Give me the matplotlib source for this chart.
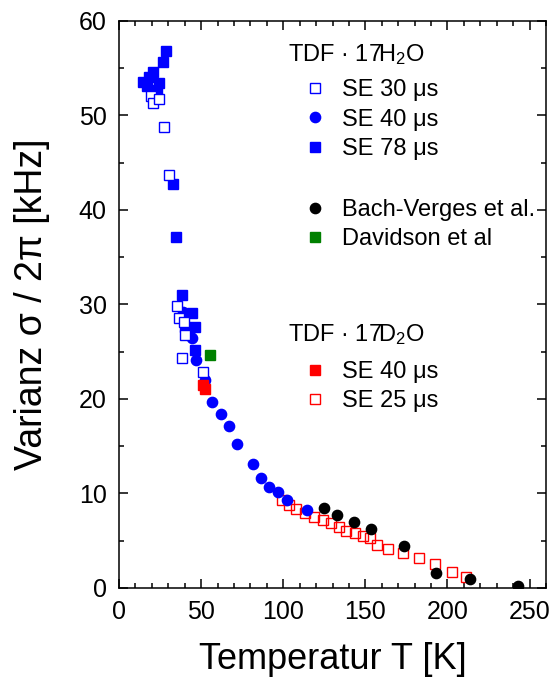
import matplotlib
matplotlib.use("Agg")
import matplotlib.pyplot as plt
from matplotlib.ticker import MultipleLocator

plt.rcParams['font.family'] = ['Liberation Sans', 'DejaVu Sans']
plt.rcParams['mathtext.fontset'] = 'custom'
plt.rcParams['mathtext.rm'] = 'Liberation Sans'
plt.rcParams['mathtext.it'] = 'Liberation Sans:italic'

# === data ===
# TDF*17H2O, SE 30 us (open blue squares)
t_se30 = [19.5, 20.7, 24.3, 27.4, 30.4, 35.3, 36.5, 39.5, 40.1, 38.3, 51.1]
v_se30 = [52.1, 51.3, 51.7, 48.8, 43.7, 29.8, 28.6, 28.1, 26.8, 24.3, 22.9]

# TDF*17H2O, SE 40 us (blue circles)
t_se40 = [38.9, 42.6, 44.4, 46.8, 52.3, 56.6, 62.0, 66.9, 71.8, 81.5,
          86.4, 91.2, 96.7, 102.2, 114.4]
v_se40 = [29.2, 26.9, 26.5, 24.1, 22.0, 19.7, 18.4, 17.1, 15.2, 13.1,
          11.6, 10.7, 10.2, 9.3, 8.3]

# TDF*17H2O, SE 78 us (filled blue squares)
t_se78 = [28.6, 26.8, 20.7, 18.2, 14.6, 17.0, 24.3, 23.1, 32.8, 34.7,
          38.3, 44.4, 40.1, 46.2, 46.2]
v_se78 = [56.8, 55.7, 54.6, 54.1, 53.5, 53.1, 53.4, 52.7, 42.8, 37.1,
          31.0, 29.1, 27.6, 27.6, 25.2]

# Bach-Verges et al. (black circles)
t_bach = [124.7, 132.6, 143.0, 153.3, 173.4, 192.8, 213.5, 242.7]
v_bach = [8.5, 7.7, 7.0, 6.2, 4.4, 1.6, 1.0, 0.2]

# Davidson et al (green square)
t_dav = [55.4]
v_dav = [24.7]

# TDF*17D2O, SE 40 us (filled red squares)
t_d40 = [51.2, 52.2]
v_d40 = [21.5, 21.1]

# TDF*17D2O, SE 25 us (open red squares)
t_d25 = [99.0, 103.5, 108.0, 113.5, 119.0, 124.0, 129.0, 134.0, 138.5,
         143.5, 148.5, 152.7, 157.0, 163.6, 172.7, 182.5, 192.2, 203.0, 211.0]
v_d25 = [9.3, 8.8, 8.4, 7.9, 7.5, 7.2, 6.9, 6.4, 6.0,
         5.8, 5.5, 5.3, 4.6, 4.1, 3.7, 3.2, 2.5, 1.7, 1.2]

blue = '#0000ff'
red = '#ff0000'
green = '#008000'

fig = plt.figure(figsize=(5.52, 6.77), dpi=100)
ax = fig.add_axes([0.2156, 0.1315, 0.7736, 0.8375])

ms = 6.8
h_d25, = ax.plot(t_d25, v_d25, 's', ls='none', ms=ms, mfc='none', mec=red, mew=1.0, zorder=2)
h_bach, = ax.plot(t_bach, v_bach, 'o', ls='none', ms=ms + 0.6, color='black', zorder=2.5)
h_se78, = ax.plot(t_se78, v_se78, 's', ls='none', ms=ms, color=blue, mec=blue, zorder=3)
h_se40, = ax.plot(t_se40, v_se40, 'o', ls='none', ms=ms + 0.6, color=blue, zorder=4)
h_se30, = ax.plot(t_se30, v_se30, 's', ls='none', ms=ms, mfc='white', mec=blue, mew=1.0, zorder=5)
h_dav, = ax.plot(t_dav, v_dav, 's', ls='none', ms=ms, color=green, zorder=6)
h_d40, = ax.plot(t_d40, v_d40, 's', ls='none', ms=ms, color=red, zorder=6)

ax.set_xlim(0, 260)
ax.set_ylim(0, 60)
ax.xaxis.set_major_locator(MultipleLocator(50))
ax.xaxis.set_minor_locator(MultipleLocator(10))
ax.yaxis.set_major_locator(MultipleLocator(10))
ax.yaxis.set_minor_locator(MultipleLocator(5))
ax.tick_params(which='both', direction='in', top=True, right=True, width=1.1)
ax.tick_params(which='major', length=6.5, labelsize=18, pad=9)
ax.tick_params(which='minor', length=3.6)
for sp in ax.spines.values():
    sp.set_linewidth(1.1)

ax.set_xlabel('Temperatur T [K]', fontsize=26)
ax.set_ylabel('Varianz σ / 2π [kHz]', fontsize=27)
ax.yaxis.set_label_coords(-0.162, 0.5)
ax.xaxis.set_label_coords(0.5, -0.095)

# legend blocks: headers as text, entries as borderless legends
ax.text(0.396, 0.930, 'TDF · 17H$_2$O', transform=ax.transAxes,
        fontsize=17, ha='left', va='baseline')
ax.text(0.396, 0.4347, 'TDF · 17D$_2$O', transform=ax.transAxes,
        fontsize=17, ha='left', va='baseline')

leg_kw = dict(frameon=False, fontsize=17, loc='upper left', borderpad=0,
              borderaxespad=0, handlelength=1.0, handletextpad=0.65,
              labelspacing=0.31)

leg1 = ax.legend([h_se30, h_se40, h_se78], ['SE 30 μs', 'SE 40 μs', 'SE 78 μs'],
                 bbox_to_anchor=(0.431, 0.897), **leg_kw)
ax.add_artist(leg1)
leg2 = ax.legend([h_bach, h_dav], ['Bach-Verges et al.', 'Davidson et al'],
                 bbox_to_anchor=(0.431, 0.686), **leg_kw)
ax.add_artist(leg2)
leg3 = ax.legend([h_d40, h_d25], ['SE 40 μs', 'SE 25 μs'],
                 bbox_to_anchor=(0.431, 0.400), **leg_kw)

fig.savefig('out.png', dpi=100)
